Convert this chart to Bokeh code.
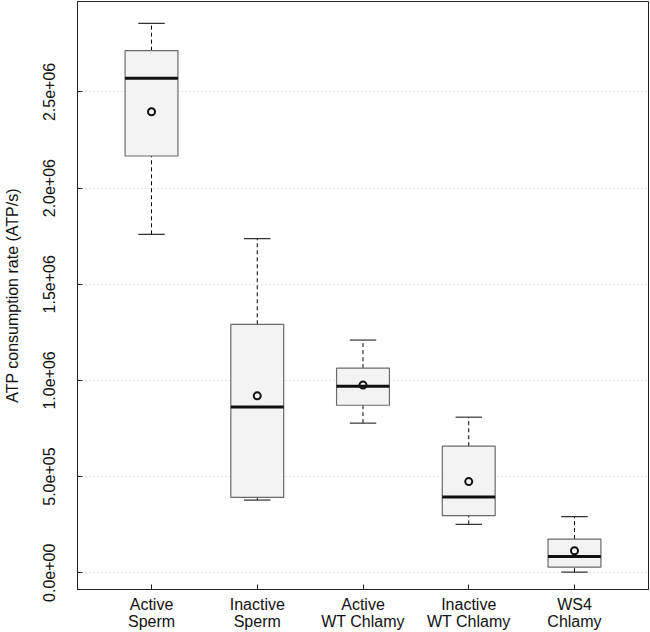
from bokeh.plotting import figure
from bokeh.models import ColumnDataSource, FixedTicker, Range1d
from bokeh.transform import dodge
from bokeh.embed import file_html
from bokeh.resources import INLINE

categories = ["Active\nSperm", "Inactive\nSperm", "Active\nWT Chlamy", "Inactive\nWT Chlamy", "WS4\nChlamy"]
positions = [1, 2, 3, 4, 5]
whisker_low = [1.760e6, 0.378e6, 0.778e6, 0.2515e6, 0.003e6]
q1 = [2.167e6, 0.392e6, 0.871e6, 0.297e6, 0.029e6]
medians = [2.571e6, 0.8625e6, 0.970e6, 0.394e6, 0.085e6]
q3 = [2.715e6, 1.292e6, 1.064e6, 0.658e6, 0.175e6]
whisker_high = [2.857e6, 1.737e6, 1.210e6, 0.809e6, 0.2915e6]
means = [2.397e6, 0.920e6, 0.976e6, 0.474e6, 0.1146e6]

y_ticks = [0, 5e5, 1e6, 1.5e6, 2e6, 2.5e6]
y_tick_labels = ["0.0e+00", "5.0e+05", "1.0e+06", "1.5e+06", "2.0e+06", "2.5e+06"]

src = ColumnDataSource(dict(x=positions, lo=whisker_low, q1=q1, med=medians,
                            q3=q3, hi=whisker_high, mean=means))

FONT = "Liberation Sans"

p = figure(width=650, height=632, output_backend="svg", toolbar_location=None,
           x_range=Range1d(0.3, 5.7), y_range=Range1d(-0.087e6, 2.9704e6),
           min_border_left=77, min_border_right=2, min_border_top=1, min_border_bottom=40)

p.outline_line_color = "#222222"
p.outline_line_width = 1
p.background_fill_color = "white"
p.border_fill_color = "white"

p.xgrid.visible = False
p.ygrid.grid_line_color = "#c8c8c8"
p.ygrid.grid_line_dash = "1 3"
p.ygrid.ticker = FixedTicker(ticks=y_ticks)

# whiskers
p.segment(x0="x", y0="q3", x1="x", y1="hi", source=src, line_color="black", line_dash="4 3", line_width=1)
p.segment(x0="x", y0="lo", x1="x", y1="q1", source=src, line_color="black", line_dash="4 3", line_width=1)
# caps
p.segment(x0=dodge("x", -0.125), y0="hi", x1=dodge("x", 0.125), y1="hi", source=src, line_color="#333333", line_width=1.2)
p.segment(x0=dodge("x", -0.125), y0="lo", x1=dodge("x", 0.125), y1="lo", source=src, line_color="#333333", line_width=1.2)
# boxes
p.vbar(x="x", top="q3", bottom="q1", width=0.5, source=src, fill_color="#f3f3f3", line_color="#6a6a6a", line_width=1.2)
# medians
p.segment(x0=dodge("x", -0.25), y0="med", x1=dodge("x", 0.25), y1="med", source=src, line_color="#111111", line_width=3)
# means
p.scatter(x="x", y="mean", source=src, marker="circle", size=7, fill_color=None, line_color="#111111", line_width=2)

# axes
p.xaxis.ticker = FixedTicker(ticks=positions)
p.xaxis.major_label_overrides = {pos: lab for pos, lab in zip(positions, categories)}
p.yaxis.ticker = FixedTicker(ticks=y_ticks)
p.yaxis.major_label_overrides = {t: lab for t, lab in zip(y_ticks, y_tick_labels)}
p.yaxis.major_label_orientation = "vertical"
p.yaxis.axis_label = "ATP consumption rate (ATP/s)"

for ax in (p.xaxis[0], p.yaxis[0]):
    ax.axis_line_color = "#222222"
    ax.major_tick_line_color = "#222222"
    ax.major_tick_in = 5
    ax.major_tick_out = 0
    ax.minor_tick_line_color = None
    ax.major_label_text_font = FONT
    ax.major_label_text_font_size = "16px"
    ax.major_label_text_color = "#111111"
    ax.axis_label_text_font = FONT
    ax.axis_label_text_font_size = "16px"
    ax.axis_label_text_font_style = "normal"
    ax.axis_label_text_color = "#111111"

p.xaxis.major_label_standoff = 6
p.xaxis.major_label_text_line_height = 1.0
p.yaxis.major_label_standoff = 22
p.yaxis.axis_label_standoff = 20

open("out.html", "w").write(file_html(p, INLINE))
